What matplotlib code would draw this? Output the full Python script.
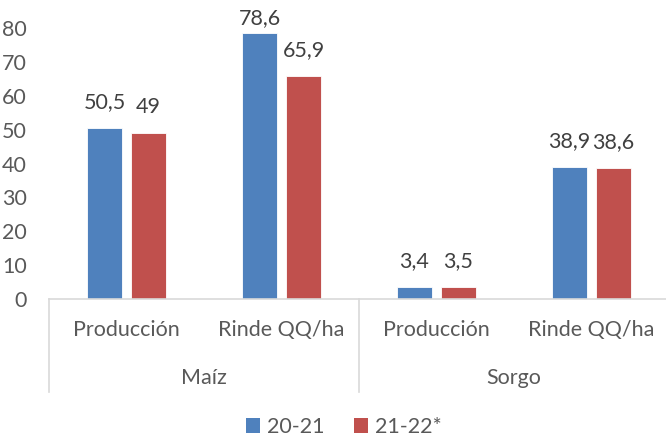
import matplotlib
matplotlib.use("Agg")
import matplotlib.pyplot as plt
from matplotlib.patches import Patch
import numpy as np

plt.rcParams['font.family'] = ['Lato', 'DejaVu Sans']

groups = ["Maíz", "Sorgo"]
subcats = ["Producción", "Rinde QQ/ha", "Producción", "Rinde QQ/ha"]
series_names = ["20-21", "21-22*"]
v2021 = [50.5, 78.6, 3.4, 38.9]
v2122 = [49, 65.9, 3.5, 38.6]
labels2021 = ["50,5", "78,6", "3,4", "38,9"]
labels2122 = ["49", "65,9", "3,5", "38,6"]
yticks = [0, 10, 20, 30, 40, 50, 60, 70, 80]

W, H = 666, 436
fig = plt.figure(figsize=(W / 100, H / 100), dpi=100)
ax_l, ax_r, ax_top, ax_zero = 49, 669, 28, 299
ax = fig.add_axes([ax_l / W, (H - ax_zero) / H, (ax_r - ax_l) / W, (ax_zero - ax_top) / H])

blue = "#4F81BD"
red = "#C0504D"
txt = "#595959"
lbl = "#404040"
fs = 15.5
x = np.arange(len(subcats))
bw = 35 / 155
off = 22 / 155
ax.bar(x - off, v2021, bw, color=blue, edgecolor="white", linewidth=0.6)
ax.bar(x + off, v2122, bw, color=red, edgecolor="white", linewidth=0.6)

ax.set_xlim(-0.5, 3.5)
ax.set_ylim(0, 80)
ax.set_yticks(yticks)
ax.set_yticklabels([str(t) for t in yticks], fontsize=fs, color=txt)
ax.tick_params(axis='y', length=0, pad=16)
ax.set_xticks([])
for s in ["left", "right", "top"]:
    ax.spines[s].set_visible(False)
ax.spines["bottom"].set_color("#D9D9D9")
ax.spines["bottom"].set_linewidth(1.2)

ppu = (ax_zero - ax_top) / 80.0
tr = ax.get_xaxis_transform()
def yfrac(py):
    return (ax_zero - py) / (ax_zero - ax_top)

for xs, vals, labs in [(x - off, v2021, labels2021), (x + off, v2122, labels2122)]:
    for xi, v, lab in zip(xs, vals, labs):
        top_px = ax_zero - v * ppu
        cy = max(top_px - 26, ax_top - 10)
        ax.text(xi, yfrac(cy), lab, transform=tr, ha="center", va="center",
                fontsize=fs, color=lbl, clip_on=False)

for xi, s in zip(x, subcats):
    ax.text(xi, yfrac(330), s, transform=tr, ha="center", va="center", fontsize=fs,
            color=txt, clip_on=False)
for gi, g in enumerate(groups):
    ax.text(2 * gi + 0.5, yfrac(378), g, transform=tr, ha="center", va="center", fontsize=fs,
            color=txt, clip_on=False)
for sx in [-0.5, 1.5, 3.5]:
    ax.plot([sx, sx], [0, yfrac(392)], transform=tr, color="#D9D9D9", linewidth=1.2, clip_on=False)

handles = [Patch(facecolor=blue), Patch(facecolor=red)]
fig.legend(handles, series_names, loc="center", bbox_to_anchor=(344 / W, 1 - 427 / H), ncol=2,
           frameon=False, fontsize=fs, handlelength=0.65, handleheight=0.65, handletextpad=0.3,
           columnspacing=1.4, labelcolor=txt)

fig.savefig("out.png", dpi=100)
